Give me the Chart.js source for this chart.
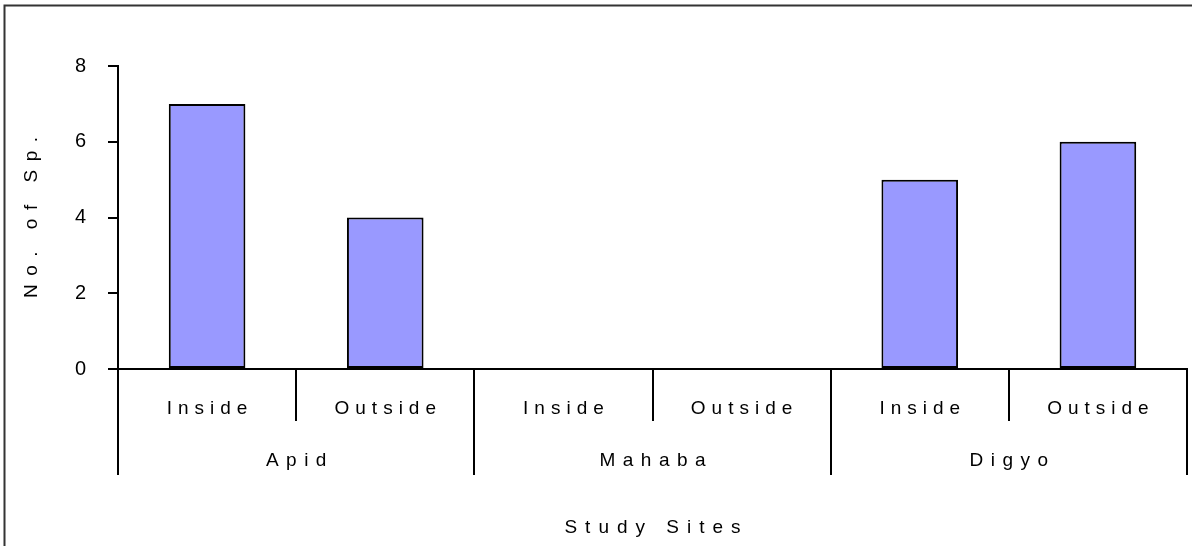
<!DOCTYPE html>
<html>
<head>
<meta charset="utf-8">
<script src="https://cdn.jsdelivr.net/npm/chart.js@4"></script>
<style>
  html, body { margin: 0; padding: 0; background: #fff; }
  #wrap { width: 1192px; height: 546px; position: relative; }
</style>
</head>
<body>
<div id="wrap"><canvas id="chart" width="1192" height="546"></canvas></div>
<script>
// ========================
// DATOS
// ========================
const sites = ["Apid", "Mahaba", "Digyo"];
const positions = ["Inside", "Outside"];
const species = [7, 4, 0, 0, 5, 6];
const yTicks = [0, 2, 4, 6, 8];
const yTitle = "No. of Sp.";
const xTitle = "Study Sites";

const labels = [];
sites.forEach(s => positions.forEach(p => labels.push(p)));

const FONT = '"Liberation Sans", Arial, sans-serif';

// ========================
// EJE MULTINIVEL + MARCO
// ========================
function spacedText(ctx, text, x, y, spacing) {
  ctx.letterSpacing = spacing + "px";
  ctx.fillText(text, x + spacing / 2, y);
  ctx.letterSpacing = "0px";
}

const axisPlugin = {
  id: "axisPlugin",
  afterDraw(chart) {
    const ctx = chart.ctx;
    const xs = chart.scales.x;
    const area = chart.chartArea;
    const half = (xs.getPixelForValue(1) - xs.getPixelForValue(0)) / 2;
    const axisY = area.bottom;

    ctx.save();
    ctx.strokeStyle = "#000";
    ctx.lineWidth = 2;
    for (let i = 0; i <= labels.length; i++) {
      const x = Math.round(xs.getPixelForValue(Math.min(i, labels.length - 1)) + (i === labels.length ? half : -half));
      const end = i % positions.length === 0 ? axisY + 106 : axisY + 52;
      ctx.beginPath();
      ctx.moveTo(x, axisY);
      ctx.lineTo(x, end);
      ctx.stroke();
    }

    ctx.fillStyle = "#000";
    ctx.font = "19px " + FONT;
    ctx.textAlign = "center";
    ctx.textBaseline = "middle";
    labels.forEach((l, i) => {
      spacedText(ctx, l, xs.getPixelForValue(i), axisY + 40, 6);
    });
    sites.forEach((s, g) => {
      const a = xs.getPixelForValue(g * positions.length);
      const b = xs.getPixelForValue(g * positions.length + positions.length - 1);
      spacedText(ctx, s, (a + b) / 2, axisY + 92, 7.5);
    });
    spacedText(ctx, xTitle, (area.left + area.right) / 2, axisY + 159, 8);

    ctx.save();
    ctx.translate(32, (area.top + area.bottom) / 2);
    ctx.rotate(-Math.PI / 2);
    spacedText(ctx, yTitle, 0, 0, 8.5);
    ctx.restore();

    // marco
    ctx.strokeStyle = "#333";
    ctx.lineWidth = 2;
    ctx.strokeRect(4.5, 5.5, 1300, 700);
    ctx.restore();
  }
};

// ========================
// GRAFICO
// ========================
const ctx = document.getElementById("chart").getContext("2d");
new Chart(ctx, {
  type: "bar",
  data: {
    labels: labels,
    datasets: [{
      label: yTitle,
      data: species,
      backgroundColor: "#9999FF",
      borderColor: "#000",
      borderWidth: 2,
      borderSkipped: false,
      categoryPercentage: 1,
      barPercentage: 0.43
    }]
  },
  options: {
    responsive: false,
    animation: false,
    events: [],
    layout: { padding: { top: 66, right: 5, left: 0, bottom: 0 } },
    plugins: { legend: { display: false }, tooltip: { enabled: false } },
    scales: {
      x: {
        ticks: { display: false },
        grid: { display: false },
        border: { display: true, color: "#000", width: 2 },
        afterFit: s => { s.height = 177; }
      },
      y: {
        min: yTicks[0],
        max: yTicks[yTicks.length - 1],
        afterBuildTicks: s => { s.ticks = yTicks.map(v => ({ value: v })); },
        ticks: { color: "#000", font: { family: FONT, size: 20 }, padding: 22 },
        grid: { drawOnChartArea: false, drawTicks: true, tickLength: 10, color: "#000", lineWidth: 2 },
        border: { display: true, color: "#000", width: 2 },
        afterFit: s => { s.width = 118; }
      }
    }
  },
  plugins: [axisPlugin]
});
</script>
</body>
</html>
